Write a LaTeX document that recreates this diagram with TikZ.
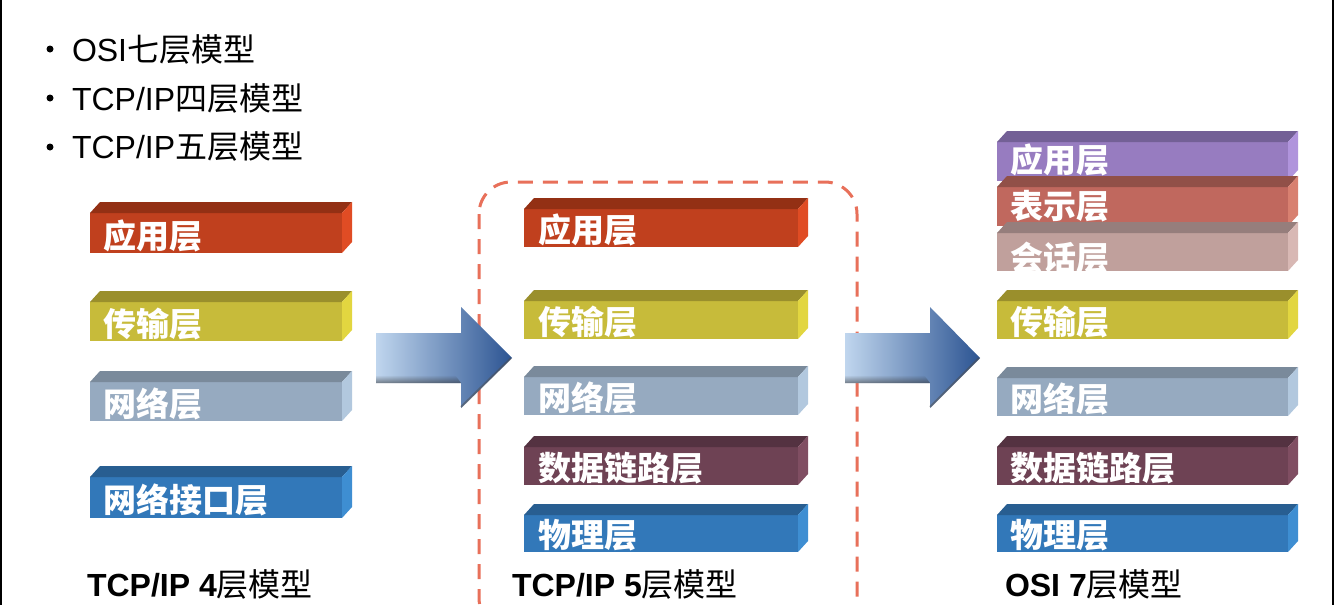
\documentclass[tikz,border=0pt]{standalone}
\usepackage{fontspec}
\setmainfont{Liberation Sans}
\newfontfamily\cjk{Noto Sans CJK SC}
\usetikzlibrary{fadings}
% layer colours: f = front, t = top, s = side
\definecolor{appf}{HTML}{C0401E}\definecolor{appt}{HTML}{933014}\definecolor{apps}{HTML}{E04C24}
\definecolor{trnf}{HTML}{C7BB3A}\definecolor{trnt}{HTML}{9A8F2C}\definecolor{trns}{HTML}{E2D640}
\definecolor{netf}{HTML}{96AAC0}\definecolor{nett}{HTML}{7A8A9B}\definecolor{nets}{HTML}{B2C8DE}
\definecolor{lnkf}{HTML}{6E4254}\definecolor{lnkt}{HTML}{543241}\definecolor{lnks}{HTML}{804E62}
\definecolor{phyf}{HTML}{3278B9}\definecolor{phyt}{HTML}{285E91}\definecolor{phys}{HTML}{3E8ED2}
\definecolor{oapf}{HTML}{977CC0}\definecolor{oapt}{HTML}{736096}\definecolor{oaps}{HTML}{B094DC}
\definecolor{presf}{HTML}{C0685E}\definecolor{prest}{HTML}{915048}\definecolor{press}{HTML}{D88070}
\definecolor{sesf}{HTML}{C0A09C}\definecolor{sest}{HTML}{967E7C}\definecolor{sess}{HTML}{D8B8B4}
\definecolor{arrowL}{RGB}{192,214,238}
\definecolor{arrowM}{RGB}{122,160,206}
\definecolor{arrowR}{RGB}{44,84,146}
\definecolor{dashred}{HTML}{E8705A}
\tikzset{
  layerfront/.style={rectangle, inner sep=0pt, outer sep=0pt, draw=none},
  layertext/.style={anchor=base west, inner sep=0pt, outer sep=0pt, text=white,
    font=\cjk\bfseries\fontsize{33}{33}\selectfont},
  bullettext/.style={anchor=base west, inner sep=0pt, outer sep=0pt,
    font=\fontsize{32}{32}\selectfont},
  bulletdot/.style={circle, fill=black, inner sep=0pt, minimum size=7pt},
  caption/.style={anchor=base west, inner sep=0pt, outer sep=0pt,
    font=\bfseries\fontsize{32}{32}\selectfont},
  bigarrow/.style={left color=arrowL, middle color=arrowM, right color=arrowR},
  groupbox/.style={draw=dashred, line width=3pt, dash pattern=on 15pt off 10pt, rounded corners=32pt},
}
% #1 name, #2 x left, #3 y top (front), #4 x right (front), #5 y bottom,
% #6 colour key, #7 text, #8 text indent, #9 baseline height above bottom
\newcommand{\layerbox}[9]{%
  \node[layerfront, fill=#6f, minimum width={#4-#2}, minimum height={#5-#3}]
    (#1) at ({(#2+#4)/2},{(#3+#5)/2}) {};
  \fill[#6t] (#1.north west) -- ([shift={(10,-11)}]#1.north west)
    -- ([shift={(10,-11)}]#1.north east) -- (#1.north east) -- cycle;
  \fill[#6s] (#1.north east) -- ([shift={(10,-11)}]#1.north east)
    -- ([shift={(10,-11)}]#1.south east) -- (#1.south east) -- cycle;
  \begin{scope}
    \clip (#1.south west) rectangle ([yshift=30pt]#1.north east);
    \node[layertext] (#1-t) at ([shift={(#8,-#9)}]#1.south west) {#7};
  \end{scope}
}
\begin{document}
\begin{tikzpicture}[x=1pt,y=-1pt]
\useasboundingbox (0,0) rectangle (1334,605);
\clip (0,0) rectangle (1334,605);
\fill[white] (0,0) rectangle (1334,605);
% frame edges
\fill[black] (0,0) rectangle (2,605);
\fill[black] (1332,0) rectangle (1334,605);

% bullets
\node[bulletdot] (d1) at (50,49) {};
\node[bulletdot] (d2) at (50,98) {};
\node[bulletdot] (d3) at (50,147) {};
\node[bullettext] (b1) at (72,61) {OSI{\cjk 七层模型}};
\node[bullettext] (b2) at (72,110) {TCP/IP{\cjk 四层模型}};
\node[bullettext] (b3) at (72,158) {TCP/IP{\cjk 五层模型}};

% dashed group box
\draw[groupbox] (479,182) rectangle (857,630);

% left column: TCP/IP 4 layers
\layerbox{la}{90}{213}{342}{253}{app}{应用层}{13}{5}
\layerbox{lt}{90}{302}{342}{341}{trn}{传输层}{13}{5}
\layerbox{ln}{90}{382}{342}{421}{net}{网络层}{13}{5}
\layerbox{li}{90}{477}{342}{518}{phy}{网络接口层}{13}{6}

% middle column: TCP/IP 5 layers
\layerbox{ma}{524}{209}{798}{247}{app}{应用层}{14}{5}
\layerbox{mt}{524}{301}{798}{339}{trn}{传输层}{14}{5}
\layerbox{mn}{524}{377}{798}{415}{net}{网络层}{14}{5}
\layerbox{ml}{524}{447}{798}{485}{lnk}{数据链路层}{14}{5}
\layerbox{mp}{524}{515}{798}{552}{phy}{物理层}{14}{5}

% right column: OSI 7 layers
\layerbox{ra}{997}{142}{1288}{181}{oap}{应用层}{13}{9}
\layerbox{rp}{997}{187}{1288}{226}{pres}{表示层}{13}{8}
\layerbox{rs}{997}{233}{1288}{271}{ses}{会话层}{13}{1}
\layerbox{rt}{997}{301}{1288}{339}{trn}{传输层}{13}{5}
\layerbox{rn}{997}{378}{1288}{416}{net}{网络层}{13}{5}
\layerbox{rl}{997}{447}{1288}{485}{lnk}{数据链路层}{13}{5}
\layerbox{rh}{997}{515}{1288}{552}{phy}{物理层}{13}{5}

% big arrows
\shade[bigarrow] (376,333) -- (461,333) -- (461,307) -- (512,358) -- (461,408)
  -- (461,383) -- (376,383) -- cycle;
\fill[black!80, path fading=north, opacity=0.55] (376,375) -- (455,375) -- (461,383) -- (376,383) -- cycle;
\draw[black!70, line width=2pt, opacity=0.5] (461,407) -- (511,358);
\shade[bigarrow] (845,333) -- (930,333) -- (930,307) -- (980,358) -- (930,408)
  -- (930,383) -- (845,383) -- cycle;
\fill[black!80, path fading=north, opacity=0.55] (845,375) -- (924,375) -- (930,383) -- (845,383) -- cycle;
\draw[black!70, line width=2pt, opacity=0.5] (930,407) -- (979,358);

% captions
\node[caption] (c1) at (87,596) {TCP/IP 4{\cjk\mdseries 层模型}};
\node[caption] (c2) at (512,596) {TCP/IP 5{\cjk\mdseries 层模型}};
\node[caption] (c3) at (1005,596) {OSI 7{\cjk\mdseries 层模型}};
\end{tikzpicture}
\end{document}
